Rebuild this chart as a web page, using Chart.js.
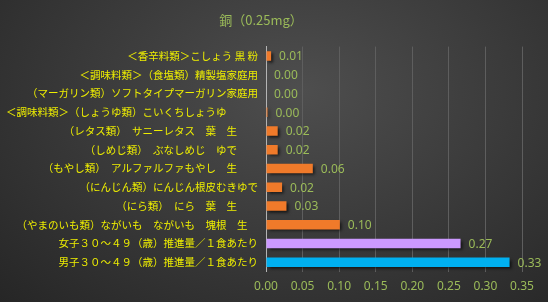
<!DOCTYPE html>
<html>
<head>
<meta charset="utf-8">
<script src="https://cdn.jsdelivr.net/npm/chart.js@4"></script>
<style>
  html, body { margin: 0; padding: 0; }
  body {
    width: 548px; height: 302px; overflow: hidden;
    background: radial-gradient(ellipse at 55% 30%, #4e4e4e 0%, #3c3c3c 45%, #262626 100%);
  }
  #wrap { width: 548px; height: 302px; position: relative; }
</style>
</head>
<body>
<div id="wrap"><canvas id="chart"></canvas></div>
<script>
const chartTitle = '銅（0.25mg）';

const categories = [
    '＜香辛料類＞こしょう 黒 粉',
    '＜調味料類＞（食塩類）精製塩家庭用',
    '（マーガリン類）ソフトタイプマーガリン家庭用',
    '＜調味料類＞（しょうゆ類）こいくちしょうゆ　　　',
    '（レタス類）　サニーレタス　葉　生　　',
    '（しめじ類）　ぶなしめじ　ゆで　　',
    '（もやし類）　アルファルファもやし　生　　',
    '（にんじん類）にんじん根皮むきゆで',
    '（にら類）　にら　葉　生　　',
    '（やまのいも類）ながいも　ながいも　塊根　生　',
    '女子３０～４９（歳）推進量／１食あたり',
    '男子３０～４９（歳）推進量／１食あたり'
];

const values = [0.007, 0, 0, 0.002, 0.016, 0.016, 0.064, 0.022, 0.028, 0.101, 0.266, 0.333];

const barColors = [
    '#f07a2a', '#f07a2a', '#f07a2a', '#f07a2a', '#f07a2a', '#f07a2a',
    '#f07a2a', '#f07a2a', '#f07a2a', '#f07a2a', '#cc99ff', '#00b0f0'
];

const xTicks = [0, 0.05, 0.10, 0.15, 0.20, 0.25, 0.30, 0.35];

const green = '#9bbb59';
const yellow = '#eeee00';

// shadow under bars, and value labels at the bar ends
const barExtras = {
    id: 'barExtras',
    beforeDatasetsDraw(chart) {
        const ctx = chart.ctx;
        ctx.save();
        ctx.shadowColor = 'rgba(0,0,0,0.65)';
        ctx.shadowBlur = 3;
        ctx.shadowOffsetX = 2;
        ctx.shadowOffsetY = 2;
    },
    afterDatasetsDraw(chart) {
        const ctx = chart.ctx;
        ctx.restore();
        const meta = chart.getDatasetMeta(0);
        ctx.save();
        ctx.font = '12px "Noto Sans", sans-serif';
        ctx.fillStyle = green;
        ctx.textAlign = 'left';
        ctx.textBaseline = 'middle';
        meta.data.forEach((bar, i) => {
            ctx.fillText(values[i].toFixed(2), bar.x + 8, bar.y + 1);
        });
        ctx.restore();
    }
};

const ctx = document.getElementById('chart').getContext('2d');
new Chart(ctx, {
    type: 'bar',
    data: {
        labels: categories,
        datasets: [{
            data: values,
            backgroundColor: barColors,
            borderWidth: 0,
            barPercentage: 0.5,
            categoryPercentage: 1.0
        }]
    },
    options: {
        indexAxis: 'y',
        responsive: true,
        maintainAspectRatio: false,
        animation: false,
        layout: {
            padding: { top: 0, right: 26, bottom: 0, left: 0 }
        },
        plugins: {
            legend: { display: false },
            tooltip: { enabled: false },
            title: {
                display: true,
                text: chartTitle,
                color: green,
                font: { family: '"Noto Sans CJK JP", sans-serif', size: 13, weight: 'normal' },
                padding: { top: 12, bottom: 19 }
            }
        },
        scales: {
            x: {
                min: 0,
                max: 0.35,
                afterBuildTicks(scale) {
                    scale.ticks = xTicks.map(v => ({ value: v }));
                },
                ticks: {
                    color: green,
                    font: { family: '"Noto Sans", sans-serif', size: 12 },
                    padding: 8,
                    callback: v => Number(v).toFixed(2)
                },
                grid: { color: '#5e5e5e', drawTicks: false },
                border: { display: false }
            },
            y: {
                afterFit(scale) { scale.width = 266; },
                ticks: {
                    color: yellow,
                    font: { family: '"Noto Sans CJK JP", sans-serif', size: 10.5 },
                    padding: 8,
                    autoSkip: false
                },
                grid: { display: false, drawTicks: false },
                border: { display: true, color: '#b4b4b4', width: 1 }
            }
        }
    },
    plugins: [barExtras]
});
</script>
</body>
</html>
